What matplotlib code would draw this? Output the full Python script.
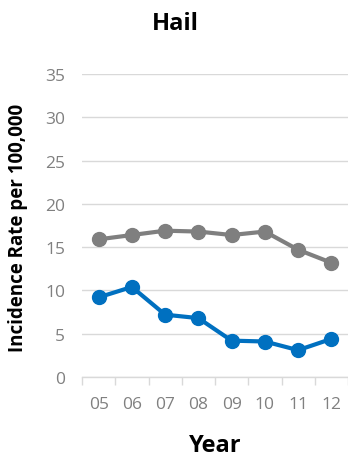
import matplotlib
matplotlib.use("Agg")
import matplotlib.pyplot as plt
import numpy as np

years = ["05", "06", "07", "08", "09", "10", "11", "12"]
gray_series = [15.9, 16.4, 16.9, 16.8, 16.4, 16.8, 14.7, 13.2]
blue_series = [9.2, 10.4, 7.2, 6.8, 4.2, 4.1, 3.1, 4.4]
yticks = [0, 5, 10, 15, 20, 25, 30, 35]

plt.rcParams['font.family'] = ['Open Sans', 'DejaVu Sans']

fig = plt.figure(figsize=(3.48, 4.64), dpi=100)
ax = fig.add_axes([82/348, 1-378/464, 266/348, 303/464])

x = np.arange(len(years))
ax.plot(x, gray_series, color='#7F7F7F', lw=3, marker='o', ms=10, zorder=3, clip_on=False)
ax.plot(x, blue_series, color='#0070C0', lw=3, marker='o', ms=10, zorder=3, clip_on=False)

ax.set_xlim(-0.5, len(years)-0.5)
ax.set_ylim(0, 35)
ax.set_yticks(yticks)
ax.set_yticklabels([str(v) for v in yticks])
ax.set_xticks(x)
ax.set_xticklabels(years)
ax.set_xticks(np.arange(-0.5, len(years), 1), minor=True)

ax.grid(axis='y', color='#D9D9D9', lw=1)
ax.set_axisbelow(True)
for s in ['top', 'right', 'left']:
    ax.spines[s].set_visible(False)
ax.spines['bottom'].set_color('#D9D9D9')
ax.spines['bottom'].set_linewidth(1)

ax.tick_params(axis='y', length=0, labelsize=12.5, labelcolor='#808080', pad=12)
ax.tick_params(axis='x', which='major', length=0, labelsize=12.5, labelcolor='#808080', pad=14)
ax.tick_params(axis='x', which='minor', length=6, color='#D9D9D9', width=1, direction='out')

fig.text(175/348, 1-24/464, "Hail", ha='center', va='center', fontsize=17, fontweight='bold')
fig.text(215/348, 1-446/464, "Year", ha='center', va='center', fontsize=17, fontweight='bold')
fig.text(18/348, 1-228/464, "Incidence Rate per 100,000", ha='center', va='center',
         rotation=90, fontsize=13.5, fontweight='bold')

fig.savefig("out.png", dpi=100)
